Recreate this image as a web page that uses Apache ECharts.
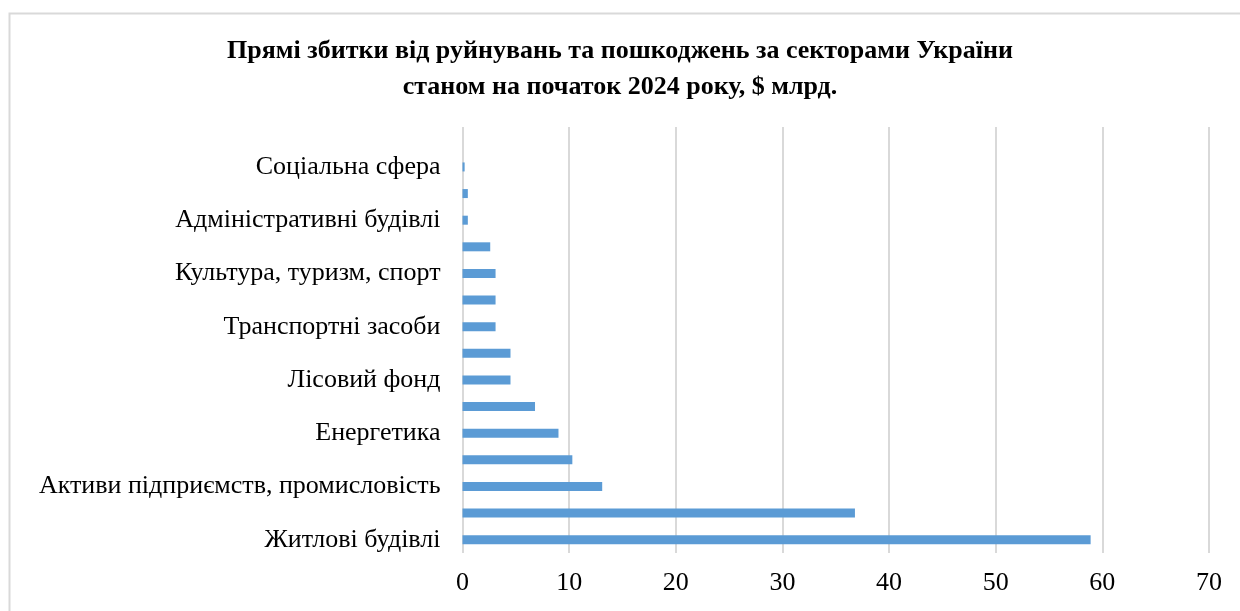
<!DOCTYPE html>
<html>
<head>
<meta charset="utf-8">
<script src="https://cdn.jsdelivr.net/npm/echarts@6/dist/echarts.min.js"></script>
<style>
html,body{margin:0;padding:0;background:#fff;}
#c{width:1240px;height:611px;}
</style>
</head>
<body>
<div id="c"></div>
<script>
// Categories, bottom to top (only every other one is labelled in the reference)
const categories = [
  'Житлові будівлі',
  'Інфраструктура',
  'Активи підприємств, промисловість',
  'Сільське господарство',
  'Енергетика',
  'Освіта',
  'Лісовий фонд',
  'Охорона здоров\u2019я',
  'Транспортні засоби',
  'Житлово-комунальне господарство',
  'Культура, туризм, спорт',
  'Торгівля',
  'Адміністративні будівлі',
  'Цифрова інфраструктура',
  'Соціальна сфера',
  'Інше'
];
const values = [58.9, 36.8, 13.1, 10.3, 9.0, 6.8, 4.5, 4.5, 3.1, 3.1, 3.1, 2.6, 0.5, 0.5, 0.2, 0];
const xTicks = [0, 10, 20, 30, 40, 50, 60, 70];
const titleText = 'Прямі збитки від руйнувань та пошкоджень за секторами України\nстаном на початок 2024 року, $ млрд.';

const chart = echarts.init(document.getElementById('c'), null, {renderer: 'canvas'});
const serif = '"Liberation Serif", "Times New Roman", "DejaVu Serif", serif';
chart.setOption({
  animation: false,
  backgroundColor: '#ffffff',
  title: {
    text: titleText,
    left: 'center',
    top: 33,
    padding: [0, 0, 0, 22],
    textStyle: {
      fontFamily: serif,
      fontWeight: 'bold',
      fontSize: 26,
      lineHeight: 36,
      color: '#000'
    }
  },
  graphic: [{
    type: 'rect',
    shape: {x: 9.5, y: 13.5, width: 1250, height: 620},
    style: {fill: 'none', stroke: '#d9d9d9', lineWidth: 2},
    silent: true,
    z: -1
  }],
  grid: {left: 462.5, right: 31, top: 127, bottom: 58, containLabel: false},
  xAxis: {
    type: 'value',
    min: xTicks[0],
    max: xTicks[xTicks.length - 1],
    interval: 10,
    axisLine: {show: false},
    axisTick: {show: false},
    splitLine: {show: true, lineStyle: {color: '#d9d9d9', width: 2}},
    axisLabel: {
      margin: 17,
      fontFamily: serif,
      fontSize: 26,
      color: '#000'
    }
  },
  yAxis: {
    type: 'category',
    data: categories,
    axisLine: {show: false},
    axisTick: {show: false},
    splitLine: {show: false},
    axisLabel: {
      interval: 1,
      margin: 22,
      fontFamily: serif,
      fontSize: 26,
      color: '#000'
    }
  },
  series: [{
    type: 'bar',
    data: values,
    barWidth: 9,
    itemStyle: {color: '#5b9bd5'},
    silent: true
  }]
});
</script>
</body>
</html>
